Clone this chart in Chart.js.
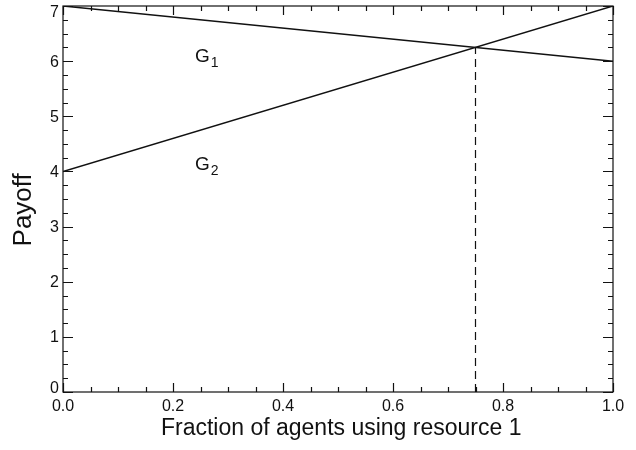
<!DOCTYPE html>
<html>
<head>
<meta charset="utf-8">
<script src="https://cdn.jsdelivr.net/npm/chart.js@4/dist/chart.umd.min.js"></script>
<style>
  html, body { margin: 0; padding: 0; background: #fff; }
  #wrap { width: 636px; height: 450px; }
</style>
</head>
<body>
<div id="wrap"><canvas id="payoffChart" width="636" height="450"></canvas></div>
<script>
// fraction of agents using resource 1 (line endpoints)
const fraction = [0, 1];
const payoffG1 = [7, 6];
const payoffG2 = [4, 7];
// equilibrium marker (dashed line)
const eqFraction = [0.75, 0.75];
const eqPayoff = [0, 6.25];
// curve labels
const curveLabels = [
    { base: 'G', sub: '1', x: 0.24, y: 6.08 },
    { base: 'G', sub: '2', x: 0.24, y: 4.12 }
];
const xTickLabels = ['0.0', '0.2', '0.4', '0.6', '0.8', '1.0'];
const yTickLabels = ['0', '1', '2', '3', '4', '5', '6', '7'];

const FONT = '"Liberation Sans", Arial, Helvetica, sans-serif';

const toPoints = (xs, ys) => xs.map((x, i) => ({ x, y: ys[i] }));

// frame, inward ticks on all four sides, y labels and curve labels
const frameTicks = {
    id: 'frameTicks',
    afterDatasetsDraw(chart) {
        const { ctx, chartArea: a, scales } = chart;
        ctx.save();
        ctx.strokeStyle = '#111';
        ctx.lineWidth = 1.2;
        ctx.strokeRect(a.left, a.top, a.right - a.left, a.bottom - a.top);
        ctx.beginPath();
        scales.x.ticks.forEach(t => {
            const px = Math.round(scales.x.getPixelForValue(t.value)) + 0.5;
            const major = Math.abs(t.value * 5 - Math.round(t.value * 5)) < 1e-6;
            const len = major ? 9 : 5;
            ctx.moveTo(px, a.bottom); ctx.lineTo(px, a.bottom - len);
            ctx.moveTo(px, a.top); ctx.lineTo(px, a.top + len);
        });
        scales.y.ticks.forEach(t => {
            const py = Math.round(scales.y.getPixelForValue(t.value)) + 0.5;
            const major = Math.abs(t.value - Math.round(t.value)) < 1e-6;
            const len = major ? 10 : 5;
            ctx.moveTo(a.left, py); ctx.lineTo(a.left + len, py);
            ctx.moveTo(a.right, py); ctx.lineTo(a.right - len, py);
        });
        ctx.stroke();

        // y tick labels: end labels kept inside the frame height
        ctx.fillStyle = '#111';
        ctx.font = '16px ' + FONT;
        ctx.textAlign = 'right';
        yTickLabels.forEach((lab, i) => {
            const py = scales.y.getPixelForValue(i);
            if (i === 0) { ctx.textBaseline = 'alphabetic'; ctx.fillText(lab, a.left - 4, py + 1); }
            else if (i === yTickLabels.length - 1) { ctx.textBaseline = 'alphabetic'; ctx.fillText(lab, a.left - 4, py + 11); }
            else { ctx.textBaseline = 'middle'; ctx.fillText(lab, a.left - 4, py + 1); }
        });

        // G1 / G2 labels with subscripts
        ctx.textBaseline = 'middle';
        ctx.textAlign = 'left';
        curveLabels.forEach(l => {
            const px = scales.x.getPixelForValue(l.x);
            const py = scales.y.getPixelForValue(l.y);
            ctx.font = '19px ' + FONT;
            ctx.fillText(l.base, px, py);
            const w = ctx.measureText(l.base).width;
            ctx.font = '14px ' + FONT;
            ctx.fillText(l.sub, px + w + 1, py + 6);
        });
        ctx.restore();
    }
};

new Chart(document.getElementById('payoffChart').getContext('2d'), {
    type: 'scatter',
    data: {
        datasets: [
            { data: toPoints(fraction, payoffG1), showLine: true, borderColor: '#111', borderWidth: 1.5, pointRadius: 0 },
            { data: toPoints(fraction, payoffG2), showLine: true, borderColor: '#111', borderWidth: 1.5, pointRadius: 0 },
            { data: toPoints(eqFraction, eqPayoff), showLine: true, borderColor: '#111', borderWidth: 1.2, borderDash: [8, 5], pointRadius: 0 }
        ]
    },
    options: {
        responsive: false,
        animation: false,
        layout: { padding: { top: 6, right: 23, left: 0, bottom: 0 } },
        plugins: { legend: { display: false }, tooltip: { enabled: false } },
        scales: {
            x: {
                type: 'linear', min: 0, max: 1,
                border: { display: false },
                grid: { display: false, drawTicks: false },
                ticks: {
                    stepSize: 0.05, autoSkip: false, maxRotation: 0, padding: 5,
                    color: '#111', font: { family: FONT, size: 16 },
                    callback: v => {
                        const i = Math.round(v * 5);
                        return Math.abs(v * 5 - i) < 1e-6 ? xTickLabels[i] : '';
                    }
                },
                title: { display: true, text: ' Fraction of agents using resource 1', color: '#111', font: { family: FONT, size: 23 }, padding: { top: 0, bottom: 8 } },
                afterFit: s => { s.height = 58; s.paddingLeft = 0; s.paddingRight = 0; }
            },
            y: {
                type: 'linear', min: 0, max: 7,
                border: { display: false },
                grid: { display: false, drawTicks: false },
                ticks: {
                    display: false, stepSize: 0.25, autoSkip: false
                },
                title: { display: true, text: 'Payoff   ', color: '#111', font: { family: FONT, size: 26 }, padding: { top: 8, bottom: 4 } },
                afterFit: s => { s.width = 63; s.paddingTop = 0; s.paddingBottom = 0; }
            }
        }
    },
    plugins: [frameTicks]
});
</script>
</body>
</html>
